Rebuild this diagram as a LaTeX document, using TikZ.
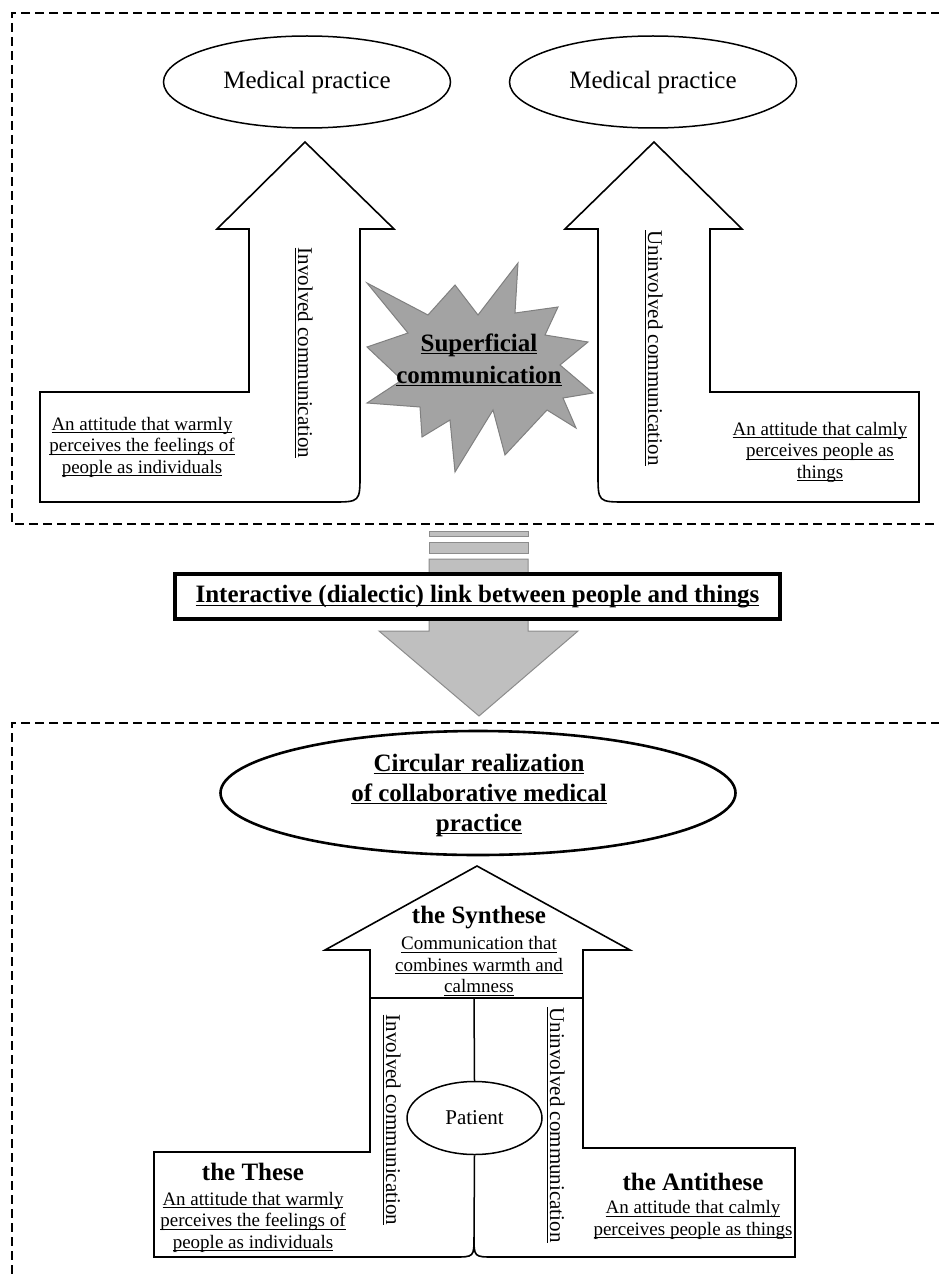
\documentclass[tikz,border=0pt]{standalone}
\usepackage{fontspec}
\setmainfont{Liberation Serif}
\usetikzlibrary{shapes.geometric}
\newsavebox\myulbox
\newcommand\myul[1]{\sbox\myulbox{#1}\rlap{\rule[-3pt]{\wd\myulbox}{0.9pt}}\usebox\myulbox}
\begin{document}
\begin{tikzpicture}[x=1pt,y=-1pt,
  dashbox/.style={line width=2.5pt, dash pattern=on 9pt off 5pt},
  shapeline/.style={line width=1.6pt, line join=miter, fill=white},
  grayarrow/.style={line width=1pt, draw=black!45, fill=black!25},
  starb/.style={line width=1pt, draw=black!50, fill=black!36, line join=miter},
  ell/.style={ellipse, draw, line width=1.5pt, inner sep=0pt, fill=white},
  small/.style={align=center, inner sep=0pt, font=\fontsize{19}{21.5}\selectfont},
  mid/.style={align=center, inner sep=0pt, font=\fontsize{21}{24}\selectfont},
  big/.style={align=center, inner sep=0pt, font=\fontsize{25}{30}\selectfont},
  bigb/.style={align=center, inner sep=0pt, font=\fontsize{25}{30}\selectfont\bfseries},
]
\useasboundingbox (0,0) rectangle (938,1276);
\fill[white] (0,0) rectangle (938,1276);

% dashed frames
\draw[dashbox] (940,13) -- (12,13) -- (12,524) -- (940,524);
\draw[dashbox] (940,723) -- (12,723) -- (12,1290);

% ===== top section =====
\node[ell, minimum width=287pt, minimum height=92pt] (mp1) at (307,82) {};
\node[big] (mp1t) at (mp1.center) {Medical practice};
\node[ell, minimum width=287pt, minimum height=92pt] (mp2) at (653,82) {};
\node[big] (mp2t) at (mp2.center) {Medical practice};

% left L-arrow
\draw[shapeline] (305,142) -- (394,229) -- (360,229) -- (360,474)
  .. controls (360,502) .. (332,502) -- (40,502) -- (40,392) -- (249,392)
  -- (249,229) -- (217,229) -- cycle;
% right L-arrow
\draw[shapeline] (654,142) -- (742,229) -- (710,229) -- (710,392) -- (919,392)
  -- (919,502) -- (626,502) .. controls (598,502) .. (598,474) -- (598,229)
  -- (565,229) -- cycle;

\node[mid, rotate=-90] (inv1) at (304,353) {\myul{Involved communication}};
\node[mid, rotate=-90] (uninv1) at (654,348) {\myul{Uninvolved communication}};

\node[small] (warm1) at (142,447) {\myul{An attitude that warmly}\\\myul{perceives the feelings of}\\\myul{people as individuals}};
\node[small] (calm1) at (820,452) {\myul{An attitude that calmly}\\\myul{perceives people as}\\\myul{things}};

% starburst
\draw[starb] (367,283) -- (428,315) -- (455,285) -- (478,315) -- (518,263)
  -- (515,313) -- (558,307) -- (545,335) -- (588,342) -- (560,365)
  -- (593,393) -- (563,398) -- (576,428) -- (547,410) -- (505,455)
  -- (493,410) -- (455,472) -- (450,420) -- (422,437) -- (420,407)
  -- (367,403) -- (402,380) -- (367,347) -- (408,333) -- cycle;
\node[bigb, font=\fontsize{25}{32}\selectfont\bfseries] (sup) at (479,360) {\myul{Superficial}\\\myul{communication}};

% ===== middle =====
\draw[grayarrow] (429,531) rectangle (528,536);
\draw[grayarrow] (429,542) rectangle (528,553);
\draw[grayarrow] (429,559) -- (528,559) -- (528,631) -- (578,631) -- (479,716)
  -- (379,631) -- (429,631) -- cycle;
\node[draw, line width=3.5pt, fill=white, minimum width=605pt, minimum height=45pt,
  inner sep=0pt, font=\fontsize{25}{30}\selectfont\bfseries] (link) at (477.5,596.5)
  {\myul{Interactive (dialectic) link between people and things}};

% ===== bottom section =====
\node[ell, line width=2.6pt, minimum width=515pt, minimum height=124pt] (circ) at (478,793) {};
\node[bigb] (circt) at (479,795) {\myul{Circular realization}\\\myul{of collaborative medical}\\\myul{practice}};

% synthese house
\draw[shapeline] (477,866) -- (630,950) -- (583,950) -- (583,998) -- (370,998)
  -- (370,950) -- (325,950) -- cycle;
\draw[line width=1.6pt] (370,998) -- (370,1152) -- (154,1152) -- (154,1257)
  -- (454,1257) .. controls (474,1257) .. (474,1237);
\draw[line width=1.6pt] (474,1237) .. controls (474,1257) .. (494,1257)
  -- (795,1257) -- (795,1148) -- (583,1148) -- (583,998);

\node[ell, minimum width=135pt, minimum height=73pt] (pat) at (474.5,1118) {};
\node[mid] (patt) at (pat.center) {Patient};
\draw[line width=1.5pt] (474,998) -- (pat.north);
\draw[line width=1.5pt] (pat.south) -- (474,1237);

\node[bigb] (synt) at (479,918) {the Synthese};
\node[small] (synx) at (479,966) {\myul{Communication that}\\\myul{combines warmth and}\\\myul{calmness}};

\node[mid, rotate=-90] (inv2) at (392,1120) {\myul{Involved communication}};
\node[mid, rotate=-90] (uninv2) at (556,1125) {\myul{Uninvolved communication}};

\node[bigb] (these) at (253,1172) {the These};
\node[small] (thesex) at (253,1222) {\myul{An attitude that warmly}\\\myul{perceives the feelings of}\\\myul{people as individuals}};

\node[bigb] (anti) at (693,1182) {the Antithese};
\node[small] (antix) at (693,1220) {\myul{An attitude that calmly}\\\myul{perceives people as things}};
\end{tikzpicture}
\end{document}
